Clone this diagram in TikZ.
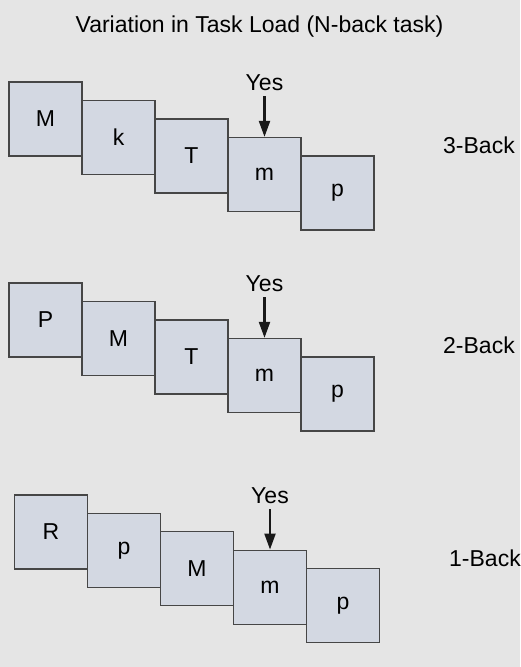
\documentclass[tikz,border=0pt]{standalone}
\usepackage{fontspec}
\setmainfont{Liberation Sans}
\usetikzlibrary{arrows.meta}
\definecolor{bggray}{RGB}{229,229,229}
\definecolor{cardfill}{RGB}{211,216,226}
\definecolor{cardline}{RGB}{70,70,70}
\begin{document}
\begin{tikzpicture}[x=1pt,y=1pt,
  card/.style={draw=cardline,fill=cardfill,line width=1.3pt,minimum width=73pt,minimum height=74pt,inner sep=0pt},
  yesarrow/.style={line width=2.2pt,-{Triangle[length=16pt,width=11pt]},shorten <=2.5pt,color=black!90}]
              \tikzstyle{every node}+=[font=\fontsize{23}{27}\selectfont]
              \fill [bggray] (0,0) rectangle (520,-667);
              \node (title) [anchor=base] at (259.5,-32) {Variation in Task Load (N-back task)};
              % 3-back
              \node [card] (s31) at (45.5,-119) {M};
              \node [card] (s32) at (118.5,-137.5) {k};
              \node [card] (s33) at (191.5,-156) {T};
              \node [card] (s34) at (264.5,-174.5) {m};
              \node [card] (s35) at (337.5,-193) {p};
              \node (yes3) [anchor=base] at (264.5,-90) {Yes};
              \draw [yesarrow] (yes3.south) -- (s34.north);
              \node (lab3) [anchor=west,inner sep=0pt] at (443,-145) {3-Back};
              % 2-back
              \node [card] (s21) at (45.5,-320) {P};
              \node [card] (s22) at (118.5,-338.5) {M};
              \node [card] (s23) at (191.5,-357) {T};
              \node [card] (s24) at (264.5,-375.5) {m};
              \node [card] (s25) at (337.5,-394) {p};
              \node (yes2) [anchor=base] at (264.5,-291) {Yes};
              \draw [yesarrow] (yes2.south) -- (s24.north);
              \node (lab2) [anchor=west,inner sep=0pt] at (443,-345) {2-Back};
              % 1-back
              \node [card] (s11) at (51,-532) {R};
              \node [card] (s12) at (124,-550.4) {p};
              \node [card] (s13) at (197,-568.8) {M};
              \node [card] (s14) at (270,-587.2) {m};
              \node [card] (s15) at (343,-605.6) {p};
              \node (yes1) [anchor=base] at (270,-503) {Yes};
              \draw [yesarrow] (yes1.south) -- (s14.north);
              \node (lab1) [anchor=west,inner sep=0pt] at (449,-558) {1-Back};
\end{tikzpicture}
\end{document}
